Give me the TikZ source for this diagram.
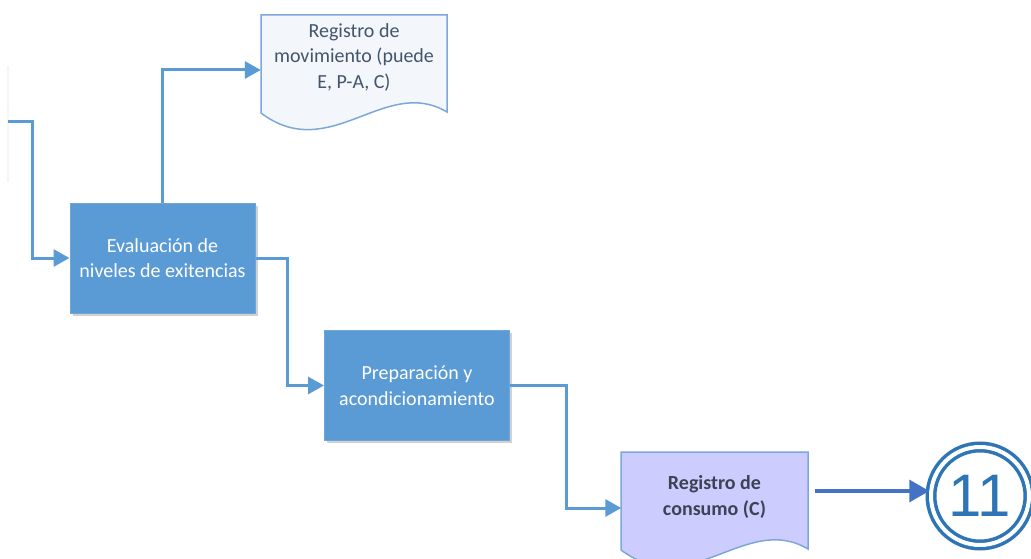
\documentclass[tikz,border=0pt]{standalone}
\usepackage{fontspec}
\setmainfont{Carlito}
\newfontfamily\arialf{Liberation Sans}
\usetikzlibrary{arrows.meta,shadows,calc}
\definecolor{procblue}{HTML}{5B9BD5}
\definecolor{procedge}{HTML}{6FA6DA}
\definecolor{docedge}{HTML}{7DA7D9}
\definecolor{docfill}{HTML}{F3F7FC}
\definecolor{doctext}{HTML}{44546A}
\definecolor{lav}{HTML}{CCCCFF}
\definecolor{lavtext}{HTML}{3C4454}
\definecolor{darkarr}{HTML}{4472C4}
\definecolor{circblue}{HTML}{2E75B6}
\tikzset{
  proc/.style={draw=procedge, line width=1pt, fill=procblue, text=white,
    minimum width=185pt, minimum height=110pt, inner sep=0pt, align=center,
    font=\fontsize{20}{25.5}\selectfont,
    drop shadow={shadow xshift=2.5pt, shadow yshift=-2.5pt, fill=black, opacity=0.18}},
  docbox/.style={minimum width=186pt, minimum height=110pt, inner sep=0pt},
  doctxt/.style={align=center, inner sep=0pt, font=\fontsize{20}{25.5}\selectfont},
  conn/.style={draw=procblue, line width=3pt,
    -{Triangle[length=16pt,width=17pt]}},
  connd/.style={draw=darkarr, line width=3.5pt,
    -{Triangle[length=20pt,width=22pt]}},
}
\begin{document}
\begin{tikzpicture}[x=1pt,y=-1pt]
\useasboundingbox (0,0) rectangle (1031,559);
\clip (0,0) rectangle (1031,559);

% faint left edge trace
\draw[black!4, line width=2pt] (8,66) -- (8,182);

% process boxes
\node[proc] (eval) at (162.5,258) {Evaluación de\\niveles de exitencias};
\node[proc] (prep) at (417,385.5) {Preparación y\\acondicionamiento};

% document 1 (Registro de movimiento)
\node[docbox] (d1) at (354,70) {};
\draw[draw=docedge, line width=1.5pt, fill=docfill]
  (261,15) -- (447,15) -- (447,112)
  .. controls (385,75) and (330,165) .. (261,113) -- cycle;
\node[doctxt, text=doctext] (d1t) at (354,57) {Registro de\\movimiento (puede\\E, P-A, C)};

% document 2 (Registro de consumo)
\node[docbox] (d2) at (714.5,508) {};
\draw[draw=docedge, line width=1.5pt, fill=lav]
  (621,452) -- (808,452) -- (808,549)
  .. controls (746,512) and (691,602) .. (621,550) -- cycle;
\node[doctxt, text=lavtext, font=\fontsize{20}{25.5}\selectfont\bfseries] (d2t) at (714.5,497) {Registro de\\consumo (C)};

% end connector circle
\node[circle, draw=circblue, line width=3.5pt, minimum size=98pt, inner sep=0pt,
  double=white, double distance=4pt, text=circblue,
  font=\arialf\fontsize{60}{60}\selectfont] (c11) at (980,496) {11};

% connectors
\coordinate (in) at (8,122);
\coordinate (inbend) at (32,122);
\draw[conn] (in) -- (inbend) |- (eval.west);
\draw[conn] (eval.north) |- (d1.west);
\draw[conn] (eval.east) -- ++(32,0) |- (prep.west);
\draw[conn] (prep.east) -- ++(56,0) |- (d2.west);
\coordinate (outsrc) at (815,491);
\draw[connd] (outsrc) -- (outsrc -| c11.west);
\end{tikzpicture}
\end{document}
